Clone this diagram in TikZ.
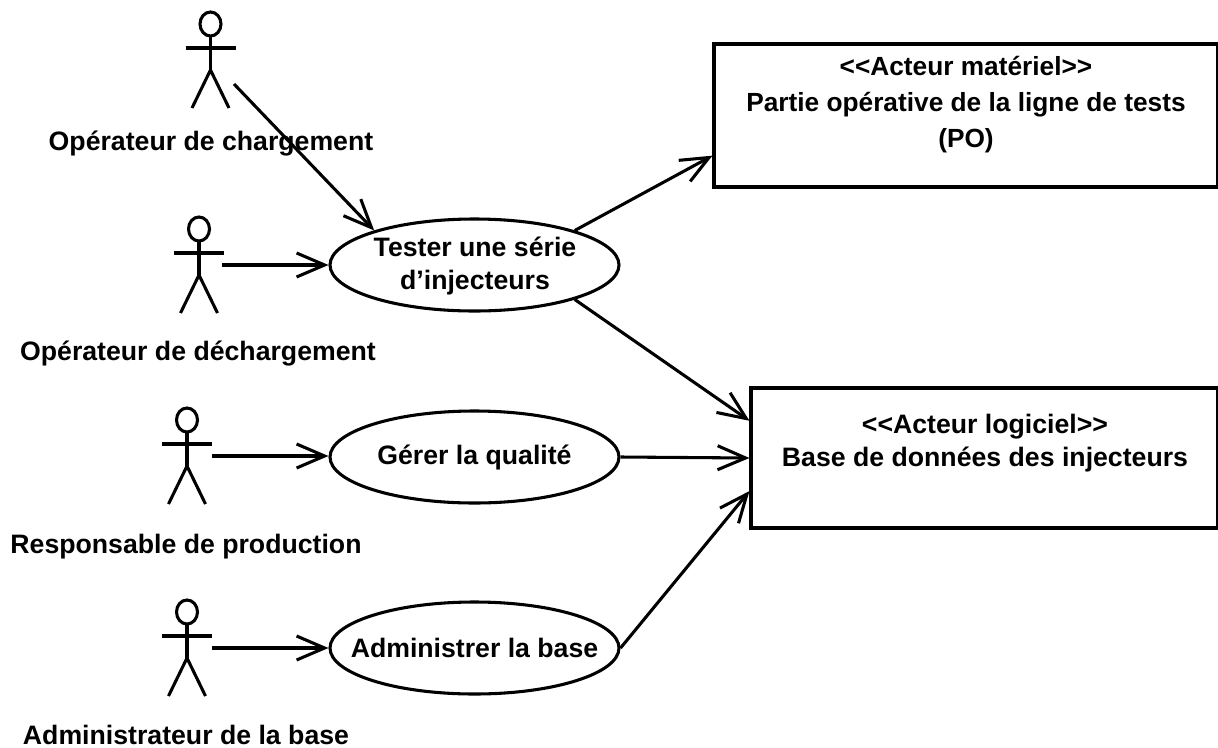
\documentclass[tikz,border=0pt]{standalone}
\usepackage{fontspec}
\setmainfont{Liberation Sans}
\usetikzlibrary{arrows.meta,shapes.geometric}
\tikzset{
  actor/.pic={
    \draw (0,0) ellipse (10.5 and 12);
    \draw (-25,24) -- (25,24);
    \draw (0,12) -- (0,46);
    \draw (-18.5,84) -- (0,46) -- (18.5,84);
  },
  usecase/.style={draw,ellipse,inner sep=0pt,minimum width=289\pxu,minimum height=92\pxu},
  aname/.style={anchor=base,font=\fontsize{20pt}{25pt}\selectfont\bfseries},
  utext/.style={align=center,font=\fontsize{20pt}{25pt}\selectfont\bfseries},
}
\newcommand{\pxu}{*0.75pt}
\begin{document}
\begin{tikzpicture}[x=.75pt,y=-.75pt,>={Straight Barb[length=21pt,width=18pt]},line width=2.3pt]
  \useasboundingbox (0,0) rectangle (1218,747);

  \pic at (210.5,24) {actor};
  \node[aname] (opc) at (211,150) {Opérateur de chargement};
  \coordinate (opcfoot) at (234,84);

  \pic at (199,229) {actor};
  \node[aname] (opd) at (198,360) {Opérateur de déchargement};
  \coordinate (opdarm) at (222,265);

  \pic at (187,420) {actor};
  \node[aname] (resp) at (186,553) {Responsable de production};
  \coordinate (resparm) at (212,456);

  \pic at (187,612) {actor};
  \node[aname,inner sep=0pt] (adm) at (186,744) {Administrateur de la base};
  \coordinate (admarm) at (212,648);

  \node[usecase] (test) at (474.5,265) {};
  \node[utext] at (475,266) {Tester une série\\d’injecteurs};
  \node[usecase] (qual) at (474.5,457) {};
  \node[utext] at (qual) {Gérer la qualité};
  \node[usecase] (base) at (474.5,648) {};
  \node[utext] at (base) {Administrer la base};

  \node[draw,minimum width=504\pxu,minimum height=143\pxu,inner sep=0pt] (po) at (966,115.5) {};
  \node[utext,font=\fontsize{19.7pt}{25pt}\selectfont\bfseries] at (966,105) {<{}<Acteur matériel>{}>\\[2pt]Partie opérative de la ligne de tests\\[2pt](PO)};
  \node[draw,minimum width=467\pxu,minimum height=140\pxu,inner sep=0pt] (bdd) at (984.5,458) {};
  \node[utext] at (985,443) {<{}<Acteur logiciel>{}>\\Base de données des injecteurs};

  \draw[->] (opcfoot) -- (test.161);
  \draw[->] (opdarm) -- (opdarm -| test.west);
  \draw[->] (resparm) -- (resparm -| qual.west);
  \draw[->] (admarm) -- (admarm -| base.west);
  \draw[->] (test.19) -- (po.189.4);
  \draw[->] (test.-19) -- (bdd.171.5);
  \draw[->] (qual.east) -- (bdd.west);
  \draw[->] (base.east) -- (bdd.188.5);
\end{tikzpicture}
\end{document}
